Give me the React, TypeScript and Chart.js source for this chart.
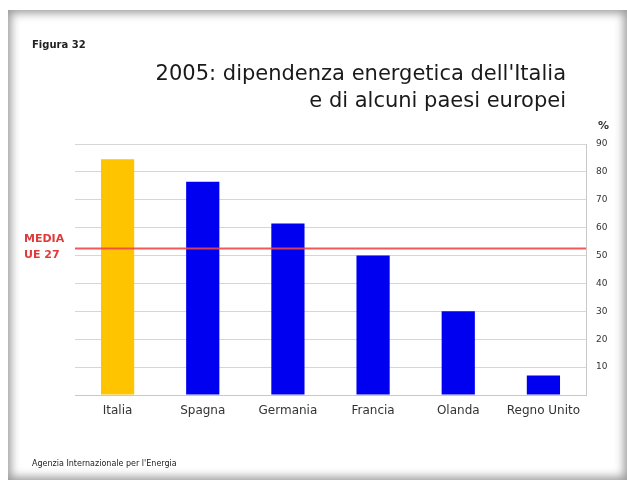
import React, { useEffect, useRef } from "react";
import { Chart, registerables } from "chart.js";

Chart.register(...registerables);

const categories = ["Italia", "Spagna", "Germania", "Francia", "Olanda", "Regno Unito"];
const values = [84.5, 76.5, 61.5, 50, 30, 7];
const barColors = ["#FFC400", "#0000F0", "#0000F0", "#0000F0", "#0000F0", "#0000F0"];
const yTicks = [10, 20, 30, 40, 50, 60, 70, 80, 90];
const mediaUE27 = 52.5;
const titleLines = ["2005: dipendenza energetica dell'Italia", "e di alcuni paesi europei"];
const figureLabel = "Figura 32";
const mediaLabel = ["MEDIA", "UE 27"];
const unitLabel = "%";
const sourceLabel = "Agenzia Internazionale per l'Energia";

const FONT = "'DejaVu Sans', sans-serif";

const annotations = {
  id: "annotations",
  afterDatasetsDraw(chart: any) {
    const { ctx, chartArea, scales } = chart;
    const y = scales.y.getPixelForValue(mediaUE27);
    ctx.save();
    ctx.strokeStyle = "rgba(240,70,70,0.9)";
    ctx.lineWidth = 2;
    ctx.beginPath();
    ctx.moveTo(chartArea.left, y);
    ctx.lineTo(chartArea.right, y);
    ctx.stroke();

    ctx.fillStyle = "#e03a3a";
    ctx.font = `bold 11px ${FONT}`;
    ctx.textAlign = "left";
    ctx.textBaseline = "middle";
    ctx.fillText(mediaLabel[0], 24, y - 9);
    ctx.fillText(mediaLabel[1], 24, y + 7);

    ctx.fillStyle = "#222";
    ctx.font = `bold 10px ${FONT}`;
    ctx.fillText(figureLabel, 32, 45);

    ctx.font = `21px ${FONT}`;
    ctx.textAlign = "right";
    ctx.fillStyle = "#1a1a1a";
    ctx.fillText(titleLines[0], 566, 75);
    ctx.fillText(titleLines[1], 566, 102);

    ctx.font = `bold 11px ${FONT}`;
    ctx.textAlign = "left";
    ctx.fillStyle = "#333";
    ctx.fillText(unitLabel, 598, 126);

    ctx.font = `8px ${FONT}`;
    ctx.fillStyle = "#222";
    ctx.fillText(sourceLabel, 32, 464);
    ctx.restore();
  },
};

export default function App() {
  const ref = useRef<HTMLCanvasElement>(null);
  useEffect(() => {
    if (!ref.current) return;
    const chart = new Chart(ref.current, {
      type: "bar",
      data: {
        labels: categories,
        datasets: [
          {
            data: values,
            backgroundColor: barColors,
            borderWidth: 0,
            barPercentage: 0.39,
            categoryPercentage: 1,
          },
        ],
      },
      options: {
        animation: false,
        responsive: false,
        layout: { padding: { left: 75, top: 144, right: 11, bottom: 55 } },
        plugins: { legend: { display: false }, title: { display: false }, tooltip: { enabled: false } },
        scales: {
          x: {
            grid: { display: false },
            border: { display: true, color: "#c8c8c8", width: 1 },
            ticks: { color: "#333", font: { family: FONT, size: 12 }, padding: 1 },
            afterFit: (s: any) => { s.height = 30; },
          },
          y: {
            position: "right",
            min: 0,
            max: 90,
            afterBuildTicks: (s: any) => { s.ticks = [0, ...yTicks].map((v) => ({ value: v })); },
            grid: { color: "#d6d6d6", drawTicks: false, lineWidth: 1 },
            border: { display: true, color: "#c8c8c8", width: 1 },
            ticks: {
              color: "#333",
              font: { family: FONT, size: 9 },
              padding: 10,
              callback: (v: any) => (v === 0 ? "" : String(v)),
            },
            afterFit: (s: any) => { s.width = 30; },
          },
        },
      },
      plugins: [annotations],
    });
    return () => chart.destroy();
  }, []);
  return (
    <div style={{ position: "absolute", left: 0, top: 0, width: 627, height: 480, background: "#fff" }}>
      <div
        style={{
          position: "absolute",
          left: 8,
          top: 10,
          width: 619,
          height: 470,
          background: "#fff",
          boxShadow: "inset 0 0 10px 3px #9a9a9a",
        }}
      />
      <canvas ref={ref} width={627} height={480} style={{ position: "absolute", left: 0, top: 0 }} />
    </div>
  );
}
